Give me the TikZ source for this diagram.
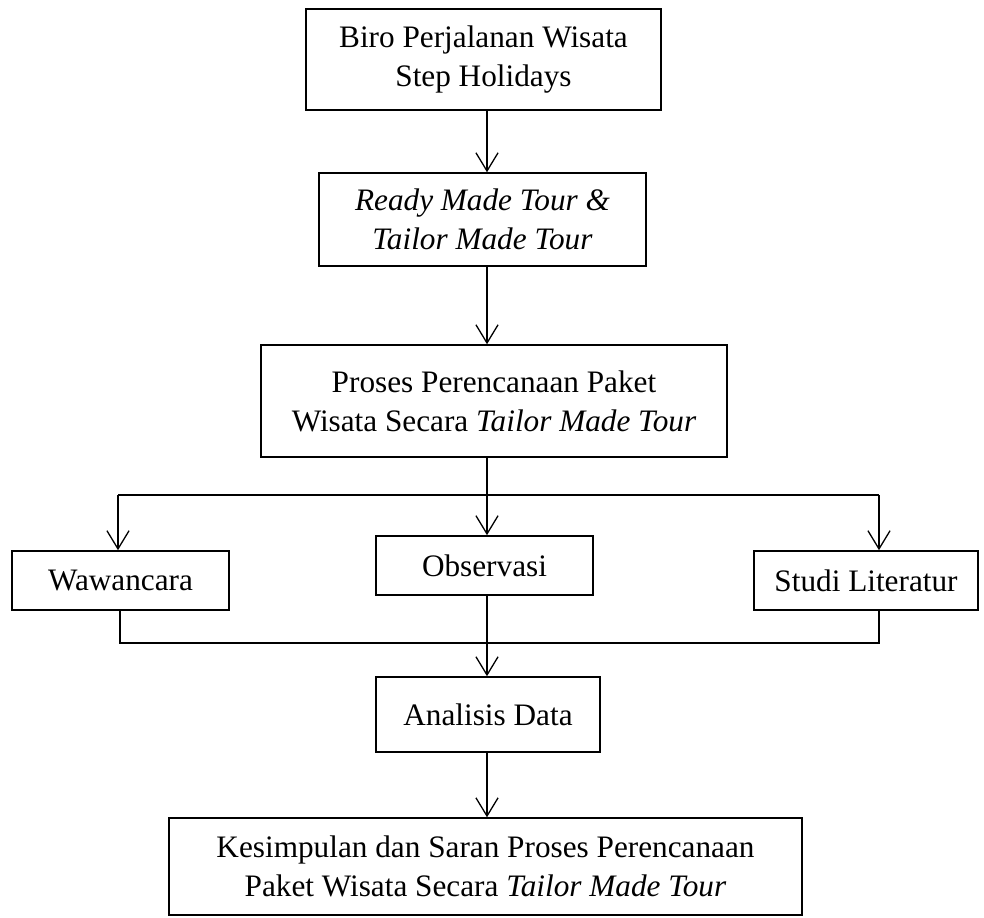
\documentclass[tikz,border=0pt]{standalone}
\usepackage{fontspec}
\setmainfont{Liberation Serif}
\usetikzlibrary{arrows.meta,positioning}

\begin{document}
\begin{tikzpicture}[x=0.384pt,y=-0.384pt,
    kotak/.style={draw,line width=0.6pt,align=center,inner sep=0pt,
      font=\fontsize{12}{15}\selectfont},
    >={Straight Barb[length=7pt,width=8.5pt]},
    garis/.style={line width=0.5pt}]
  \useasboundingbox (0,0) rectangle (984,918);

  \node[kotak,minimum width=136.3pt,minimum height=38.8pt] (biro) at (483.5,59.5)
    {Biro Perjalanan Wisata\\Step Holidays};
  \node[kotak,minimum width=125.6pt,minimum height=35.7pt] (rmt) at (482.5,219.5)
    {\textit{Ready Made Tour \&}\\\textit{Tailor Made Tour}};
  \node[kotak,minimum width=179pt,minimum height=43pt] (proses) at (494,401)
    {Proses Perencanaan Paket\\Wisata Secara \textit{Tailor Made Tour}};
  \node[kotak,minimum width=83.3pt,minimum height=22.7pt] (wwc) at (120.5,580.5) {Wawancara};
  \node[kotak,minimum width=83.3pt,minimum height=22.7pt] (obs) at (484.5,565.5) {Observasi};
  \node[kotak,minimum width=86pt,minimum height=22.7pt] (stl) at (866,580.5) {Studi Literatur};
  \node[kotak,minimum width=86pt,minimum height=28.8pt] (ana) at (488,714.5) {Analisis Data};
  \node[kotak,minimum width=243.1pt,minimum height=37.2pt] (kes) at (485.5,866.5)
    {Kesimpulan dan Saran Proses Perencanaan\\Paket Wisata Secara \textit{Tailor Made Tour}};

  \coordinate (poros) at (487,0);
  \coordinate (busL) at (118,495);
  \coordinate (busR) at (879,495);
  \coordinate (gabL) at (120,643);
  \coordinate (gabR) at (879,643);

  \draw[garis,->] (biro.south -| poros) -- (rmt.north -| poros);
  \draw[garis,->] (rmt.south -| poros) -- (proses.north -| poros);
  \draw[garis,->] (proses.south -| poros) -- (obs.north -| poros);
  \draw[garis] (busL) -- (busR);
  \draw[garis,->] (busL) -- (busL |- wwc.north);
  \draw[garis,->] (busR) -- (busR |- stl.north);

  \draw[garis] (wwc.south -| gabL) -- (gabL) -- (gabR) -- (stl.south -| gabR);
  \draw[garis,->] (obs.south -| poros) -- (ana.north -| poros);
  \draw[garis,->] (ana.south -| poros) -- (kes.north -| poros);
\end{tikzpicture}
\end{document}
